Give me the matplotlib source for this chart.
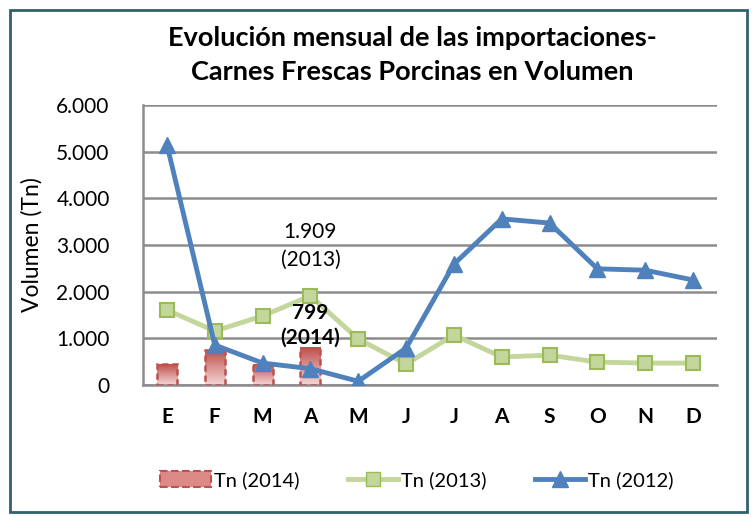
import numpy as np
import matplotlib.pyplot as plt
from matplotlib.patches import Rectangle
from matplotlib.lines import Line2D
from matplotlib.ticker import FuncFormatter
from matplotlib.colors import LinearSegmentedColormap

plt.rcParams['font.family'] = ['Lato', 'DejaVu Sans']

# data
meses = ['E', 'F', 'M', 'A', 'M', 'J', 'J', 'A', 'S', 'O', 'N', 'D']
tn_2014 = [450, 750, 430, 799]
tn_2013 = [1607, 1157, 1480, 1909, 985, 450, 1070, 600, 640, 490, 470, 470]
tn_2012 = [5150, 857, 470, 350, 80, 790, 2590, 3560, 3470, 2490, 2460, 2250]

fig = plt.figure(figsize=(7.55, 5.16), dpi=100)
ax = fig.add_axes([143/755, 1-385/516, 574/755, 280/516])

x = np.arange(len(meses))
xb = x[:len(tn_2014)]

# bars with a vertical gradient fill and dashed edge
bw = 0.42
grad = np.linspace(0, 1, 100).reshape(-1, 1)
cmap = LinearSegmentedColormap.from_list('rojo', ['#f4d6d5', '#c0504d'])
for xi, v in zip(xb, tn_2014):
    ax.imshow(grad, extent=[xi-bw/2, xi+bw/2, 0, v], origin='lower', cmap=cmap,
              aspect='auto', zorder=2)
    ax.add_patch(Rectangle((xi-bw/2, 0), bw, v, fill=False, edgecolor='#c0504d',
                           lw=1.8, ls=(0, (2.5, 1.5)), zorder=3))

ax.plot(x, tn_2013, color='#c3d69b', lw=3.5, marker='s', ms=10,
        mfc='#c3d69b', mec='#9bbb59', mew=1.5, zorder=4)
ax.plot(x, tn_2012, color='#4f81bd', lw=3.5, marker='^', ms=12,
        mfc='#4f81bd', mec='#4f81bd', zorder=5)

ax.text(3, 2980, '1.909\n(2013)', ha='center', va='center', fontsize=15,
        linespacing=1.45, zorder=6)
ax.text(3, 1270, '799\n(2014)', ha='center', va='center', fontsize=15,
        fontweight='bold', linespacing=1.3, zorder=6)

ax.set_xlim(-0.5, len(meses)-0.5)
ax.set_ylim(0, 6000)
ax.set_yticks(np.arange(0, 6001, 1000))
ax.yaxis.set_major_formatter(FuncFormatter(
    lambda v, p: '0' if v == 0 else f'{int(v):,}'.replace(',', '.')))
ax.set_xticks(x)
ax.set_xticklabels(meses, fontweight='bold')
ax.tick_params(axis='y', labelsize=15, length=0, pad=24)
ax.tick_params(axis='x', labelsize=15, length=0, pad=16)
ax.grid(axis='y', color='#8c8c8c', lw=1.8, zorder=0)
ax.set_axisbelow(True)
for s in ['top', 'right']:
    ax.spines[s].set_visible(False)
for s in ['left', 'bottom']:
    ax.spines[s].set_color('#8c8c8c')
    ax.spines[s].set_linewidth(1.8)
ax.set_ylabel('Volumen (Tn)', fontsize=16.5, labelpad=10)

fig.text(412/755, 1-55/516, 'Evolución mensual de las importaciones-\nCarnes Frescas Porcinas en Volumen',
         ha='center', va='center', fontsize=19.5, fontweight='bold', linespacing=1.45)

handles = [
    Rectangle((0, 0), 1, 1, facecolor='#dc8a88', edgecolor='#c0504d', lw=1.5, ls='--'),
    Line2D([], [], color='#c3d69b', lw=3.5, marker='s', ms=10, mfc='#c3d69b', mec='#9bbb59'),
    Line2D([], [], color='#4f81bd', lw=3.5, marker='^', ms=12, mfc='#4f81bd', mec='#4f81bd'),
]
fig.legend(handles, ['Tn (2014)', 'Tn (2013)', 'Tn (2012)'], loc='center',
           bbox_to_anchor=(417/755, 1-480/516), ncol=3, frameon=False,
           fontsize=14.5, columnspacing=2.4, handlelength=2.5, handleheight=0.8,
           handletextpad=0.15)

# outer frame
fig.patches.append(Rectangle((10/755, 4/516), 737/755, 502/516, transform=fig.transFigure,
                             fill=False, edgecolor='#31606f', lw=2))

fig.savefig('out.png', dpi=100)
